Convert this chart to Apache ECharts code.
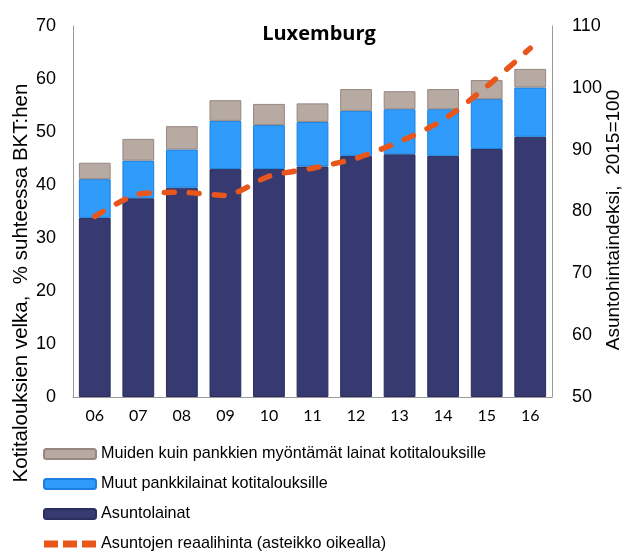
<!DOCTYPE html>
<html>
<head>
<meta charset="utf-8">
<script src="https://cdn.jsdelivr.net/npm/echarts@6/dist/echarts.min.js"></script>
<style>
  html, body { margin: 0; padding: 0; background: #fff; }
  #chart { width: 631px; height: 553px; }
</style>
</head>
<body>
<div id="chart"></div>
<script>
// Household debt (% of GDP) by loan type, and real house price index (right scale)
const years = ['06', '07', '08', '09', '10', '11', '12', '13', '14', '15', '16'];
const mortgages = [33.8, 37.5, 39.5, 43.0, 43.0, 43.5, 45.5, 45.8, 45.5, 46.8, 49.1];
const otherBankLoans = [7.3, 7.1, 7.2, 9.1, 8.3, 8.4, 8.5, 8.5, 8.8, 9.4, 9.3];
const nonBankLoans = [3.1, 4.1, 4.4, 3.9, 4.0, 3.5, 4.1, 3.4, 3.8, 3.6, 3.5];
const realHousePrice = [79.2, 82.8, 83.1, 82.6, 85.7, 87.0, 88.6, 91.3, 94.8, 100.2, 106.4];

const names = {
  nonBank: 'Muiden kuin pankkien myöntämät lainat kotitalouksille',
  otherBank: 'Muut pankkilainat kotitalouksille',
  mortgage: 'Asuntolainat',
  price: 'Asuntojen reaalihinta (asteikko oikealla)'
};

const font = 'Liberation Sans, Arial, sans-serif';
const axisGrey = '#9a9a9a';
const orange = '#e8561c';

// three short dashes for the price line's legend key (corner dots fix the 52x10 box)
const dashIcon = 'path://M0,0L0.01,0L0.01,0.01Z M52,10L51.99,10L51.99,9.99Z ' +
  'M0,1.5h14v7h-14Z M19,1.5h14v7h-14Z M38,1.5h14v7h-14Z';

const chart = echarts.init(document.getElementById('chart'));
chart.setOption({
  animation: false,
  backgroundColor: '#fff',
  title: {
    text: 'Luxemburg',
    left: 314,
    top: 19,
    textAlign: 'center',
    textStyle: { fontFamily: 'Open Sans, Lato, sans-serif', fontWeight: 'bold', fontSize: 20, color: '#000' }
  },
  grid: { left: 73, right: 79, top: 26, bottom: 156, containLabel: false, outerBoundsMode: 'none' },
  legend: {
    orient: 'vertical',
    left: 43,
    top: 446,
    height: 120,
    padding: 0,
    itemWidth: 52,
    itemHeight: 10,
    itemGap: 14,
    textStyle: { fontFamily: font, fontSize: 16.2, color: '#000' },
    data: [
      { name: names.nonBank },
      { name: names.otherBank },
      { name: names.mortgage },
      { name: names.price, icon: dashIcon }
    ]
  },
  xAxis: {
    type: 'category',
    data: years,
    axisLine: { lineStyle: { color: axisGrey, width: 1 } },
    axisTick: { show: false },
    axisLabel: { fontFamily: 'Lato, Open Sans, sans-serif', fontSize: 16, color: '#000', margin: 11 }
  },
  yAxis: [
    {
      type: 'value',
      min: 0, max: 70, interval: 10,
      axisLine: { show: true, lineStyle: { color: axisGrey } },
      axisTick: { show: false },
      splitLine: { show: false },
      axisLabel: { fontFamily: font, fontSize: 18, color: '#000', margin: 17 }
    },
    {
      type: 'value',
      min: 50, max: 110, interval: 10,
      position: 'right',
      axisLine: { show: true, lineStyle: { color: axisGrey } },
      axisTick: { show: false },
      splitLine: { show: false },
      axisLabel: { fontFamily: font, fontSize: 18, color: '#000', margin: 20 }
    }
  ],
  graphic: [
    {
      type: 'text',
      x: 11,
      y: 283,
      rotation: Math.PI / 2,
      style: {
        text: 'Kotitalouksien velka,  % suhteessa BKT:hen',
        font: '20.5px ' + font,
        fill: '#000',
        textAlign: 'center',
        textVerticalAlign: 'top'
      }
    },
    {
      type: 'text',
      x: 604,
      y: 220,
      rotation: Math.PI / 2,
      style: {
        text: 'Asuntohintaindeksi,  2015=100',
        font: '19px ' + font,
        fill: '#000',
        textAlign: 'center',
        textVerticalAlign: 'top'
      }
    }
  ],
  series: [
    {
      name: names.mortgage,
      type: 'bar',
      stack: 'debt',
      data: mortgages,
      barCategoryGap: '27%',
      itemStyle: { color: '#363a70', borderColor: '#2b2e5c', borderWidth: 1 }
    },
    {
      name: names.otherBank,
      type: 'bar',
      stack: 'debt',
      data: otherBankLoans,
      itemStyle: { color: '#2f9bfa', borderColor: '#1a7fe0', borderWidth: 1 }
    },
    {
      name: names.nonBank,
      type: 'bar',
      stack: 'debt',
      data: nonBankLoans,
      itemStyle: { color: '#b7aaa3', borderColor: '#978780', borderWidth: 1 }
    },
    {
      name: names.price,
      type: 'line',
      yAxisIndex: 1,
      data: realHousePrice,
      smooth: 0.25,
      symbol: 'none',
      itemStyle: { color: orange },
      lineStyle: { color: orange, width: 5.5, type: [10, 15], cap: 'round' },
      z: 5
    }
  ]
});
</script>
</body>
</html>
